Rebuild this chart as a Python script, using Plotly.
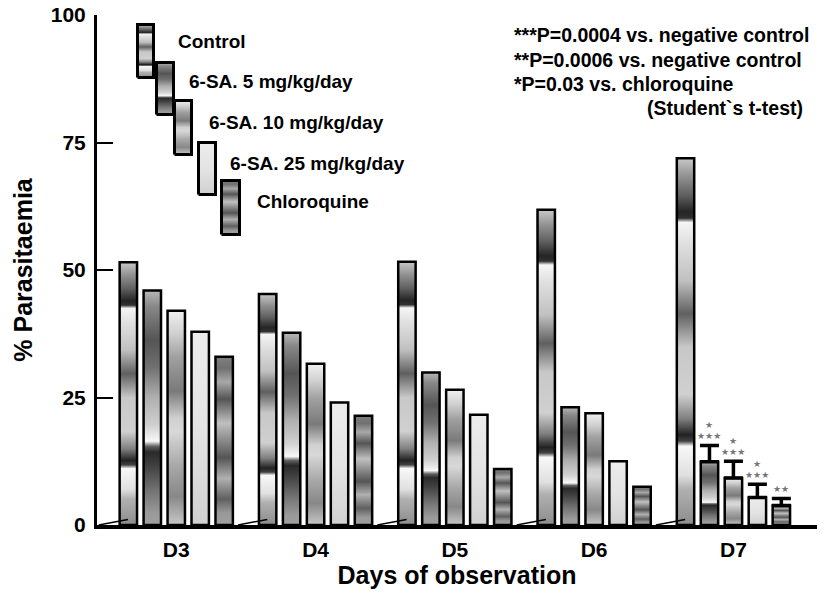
import plotly.graph_objects as go

# ---------------- data ----------------
days = ["D3", "D4", "D5", "D6", "D7"]
series_names = ["Control", "6-SA. 5 mg/kg/day", "6-SA. 10 mg/kg/day",
                "6-SA. 25 mg/kg/day", "Chloroquine"]
control = [51.5, 45.3, 51.6, 61.8, 71.9]
sa5 = [46.0, 37.7, 29.9, 23.1, 12.4]
sa10 = [42.0, 31.6, 26.5, 21.9, 9.2]
sa25 = [37.9, 24.0, 21.6, 12.5, 5.4]
chloroquine = [33.0, 21.4, 11.0, 7.5, 3.8]
values = [control, sa5, sa10, sa25, chloroquine]

d7_err = [0.0, 3.2, 3.3, 2.6, 1.4]          # upper error bars on D7
d7_star_low = ["", "★★★", "★★★", "★★★", "★★"]
d7_star_high = ["", "★", "★", "★", ""]

y_ticks = [0, 25, 50, 75, 100]

footnotes = ["***P=0.0004 vs. negative control",
             "**P=0.0006 vs. negative control",
             "*P=0.03 vs. chloroquine",
             "(Student`s t-test)"]

# ---------------- styles ----------------
control_cs = [[0.0, "#8c8c8c"], [0.097, "#b0b0b0"], [0.136, "#e0e0e0"], [0.215, "#f8f8f8"],
              [0.229, "#404040"], [0.246, "#222222"], [0.29, "#808080"], [0.356, "#d0d0d0"],
              [0.485, "#c8c8c8"], [0.576, "#606060"], [0.666, "#c0c0c0"], [0.77, "#e0e0e0"],
              [0.825, "#f5f5f5"], [0.837, "#303030"], [0.854, "#252525"], [0.90, "#606060"],
              [0.95, "#909090"], [1.0, "#c8c8c8"]]
sa5_cs = [[0.0, "#a0a0a0"], [0.05, "#9a9a9a"], [0.137, "#777777"], [0.253, "#404040"],
          [0.311, "#2a2a2a"], [0.335, "#606060"], [0.357, "#f8f8f8"], [0.426, "#d0d0d0"],
          [0.542, "#b0b0b0"], [0.672, "#707070"], [0.788, "#555555"], [0.932, "#888888"],
          [1.0, "#b8b8b8"]]
sa10_cs = [[0.0, "#c8c8c8"], [0.134, "#888888"], [0.277, "#a8a8a8"], [0.435, "#d8d8d8"],
           [0.498, "#d0d0d0"], [0.625, "#7a7a7a"], [0.783, "#a0a0a0"], [0.894, "#d0d0d0"],
           [1.0, "#f0f0f0"]]
sa25_cs = [[0.0, "#d0d0d0"], [0.5, "#e4e4e4"], [1.0, "#ececec"]]
cq_cs = [[0.0, "#a0a0a0"], [0.072, "#999999"], [0.154, "#606060"], [0.277, "#b0b0b0"],
         [0.4, "#555555"], [0.605, "#c0c0c0"], [0.748, "#555555"], [0.85, "#a8a8a8"],
         [0.932, "#707070"], [1.0, "#808080"]]
scales = [control_cs, sa5_cs, sa10_cs, sa25_cs, cq_cs]

FONT = "Liberation Sans, Arial, sans-serif"
STAR_FONT = "DejaVu Sans, sans-serif"
W, H = 824, 593
ML, MR, MT, MB = 97, 7, 15, 68
BAR_STEP = 0.172
BAR_W = 0.125
X_RANGE = [-0.569, 4.6]

fig = go.Figure()

# bars with vertical gradient fills
for s, (vals, cs) in enumerate(zip(values, scales)):
    for g, v in enumerate(vals):
        xc = g + (s - 2) * BAR_STEP
        x0, x1 = xc - BAR_W / 2, xc + BAR_W / 2
        fig.add_trace(go.Scatter(
            x=[x0, x0, x1, x1, x0], y=[0, v, v, 0, 0],
            mode="lines", fill="toself",
            fillgradient=dict(type="vertical", colorscale=cs),
            line=dict(color="black", width=2.5),
            name=series_names[s], showlegend=False, hoverinfo="skip"))

# small slanted break marks at the foot of each group
for g in range(len(days)):
    left = g - 2 * BAR_STEP - BAR_W / 2
    fig.add_trace(go.Scatter(x=[left - 0.15, left + 0.06], y=[0, 1.1], mode="lines",
                             line=dict(color="black", width=1.5),
                             showlegend=False, hoverinfo="skip"))

# D7 error bars
err_idx = [s for s in range(5) if d7_err[s] > 0]
fig.add_trace(go.Scatter(
    x=[4 + (s - 2) * BAR_STEP for s in err_idx],
    y=[values[s][4] for s in err_idx],
    mode="markers", marker=dict(opacity=0, size=1),
    error_y=dict(type="data", symmetric=False,
                 array=[d7_err[s] for s in err_idx],
                 arrayminus=[0] * len(err_idx),
                 thickness=3.5, width=9.5, color="black"),
    showlegend=False, hoverinfo="skip"))

annotations = []
for s in err_idx:
    xc = 4 + (s - 2) * BAR_STEP
    top = values[s][4] + d7_err[s]
    if d7_star_low[s]:
        annotations.append(dict(x=xc, y=top, text=d7_star_low[s], showarrow=False,
                                yanchor="bottom", yshift=3, borderpad=0,
                                font=dict(family=STAR_FONT, size=9, color="#777777")))
    if d7_star_high[s]:
        annotations.append(dict(x=xc, y=top, text=d7_star_high[s], showarrow=False,
                                yanchor="bottom", yshift=14, borderpad=0,
                                font=dict(family=STAR_FONT, size=9, color="#777777")))

# legend keys (pixel coordinates on an overlay axis)
legend_boxes = [(136, 155, 23, 79), (155, 175, 61, 116), (173, 193, 99, 156),
                (197, 217, 141, 196), (220, 241, 179, 236)]
legend_text_pos = [(176, 41.7), (187, 81.7), (207, 122.7), (228, 163), (255, 201.7)]
for s, (bx0, bx1, by0, by1) in enumerate(legend_boxes):
    x0, x1 = bx0 + 1.5, bx1 - 1.5
    ytop, ybot = H - (by0 + 1.5), H - (by1 - 1.5)
    fig.add_trace(go.Scatter(
        x=[x0, x0, x1, x1, x0], y=[ybot, ytop, ytop, ybot, ybot],
        xaxis="x2", yaxis="y2", mode="lines", fill="toself",
        fillgradient=dict(type="vertical", colorscale=scales[s]),
        line=dict(color="black", width=3),
        showlegend=False, hoverinfo="skip"))
    tx, ty = legend_text_pos[s]
    annotations.append(dict(x=tx, y=H - ty, xref="x2", yref="y2", text=series_names[s],
                            showarrow=False, xanchor="left", yanchor="middle",
                            font=dict(family=FONT, size=19, color="black", weight="bold")))

foot_pos = [(512, 35), (512, 59.5), (512, 84), (645, 108)]
for txt, (fx, fy) in zip(footnotes, foot_pos):
    annotations.append(dict(x=fx, y=H - fy, xref="x2", yref="y2", text=txt,
                            showarrow=False, xanchor="left", yanchor="middle",
                            font=dict(family=FONT, size=19.5, color="black", weight="bold")))

fig.update_layout(
    width=W, height=H,
    margin=dict(l=ML, r=MR, t=MT, b=MB, autoexpand=False),
    plot_bgcolor="white", paper_bgcolor="white",
    showlegend=False,
    font=dict(family=FONT, color="black"),
    xaxis=dict(range=X_RANGE, tickvals=list(range(len(days))), ticktext=days,
               showline=True, linewidth=4, linecolor="black", ticks="",
               showgrid=False, zeroline=False, ticklabelstandoff=3, automargin=False,
               tickfont=dict(family=FONT, size=21, color="black", weight="bold"),
               title=dict(text="Days of observation", standoff=4,
                          font=dict(family=FONT, size=25, color="black", weight="bold"))),
    yaxis=dict(range=[0, 100], tickvals=y_ticks, ticks="inside", ticklen=16,
               tickwidth=1.5, tickcolor="black",
               showline=True, linewidth=3, linecolor="black", automargin=False,
               showgrid=False, zeroline=False, ticklabelstandoff=4,
               tickfont=dict(family=FONT, size=21, color="black", weight="bold"),
               title=dict(text="% Parasitaemia", standoff=12,
                          font=dict(family=FONT, size=25, color="black", weight="bold"))),
    xaxis2=dict(overlaying="x", anchor="y2", range=[ML, W - MR], visible=False),
    yaxis2=dict(overlaying="y", anchor="x2", range=[MB, H - MT], visible=False),
    annotations=annotations,
)

fig.write_html("out.html", config={"displayModeBar": False},
               post_script="document.body.style.margin='0';")
